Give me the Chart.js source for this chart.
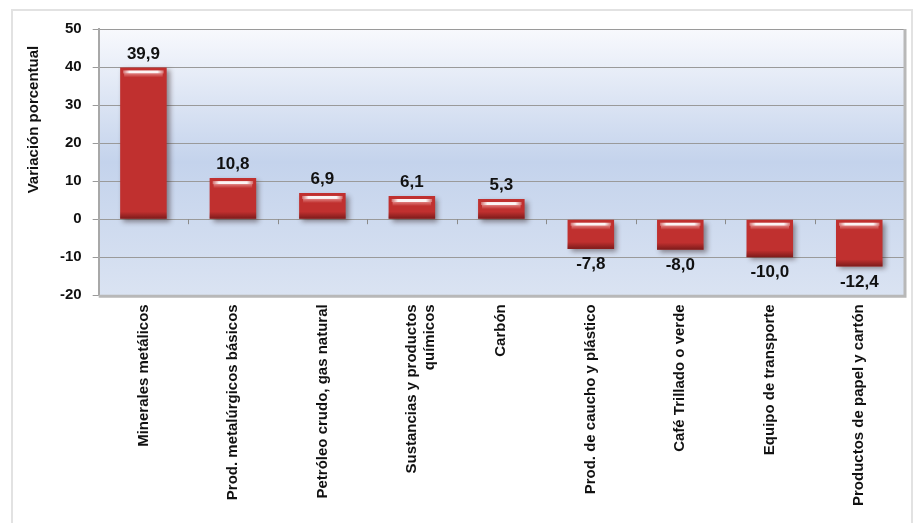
<!DOCTYPE html>
<html>
<head>
<meta charset="utf-8">
<script src="https://cdn.jsdelivr.net/npm/chart.js@4.4.0/dist/chart.umd.min.js"></script>
<style>
  html, body { margin: 0; padding: 0; background: #fff; }
  #wrap { width: 914px; height: 523px; position: relative; }
</style>
</head>
<body>
<div id="wrap"><canvas id="mainChart" width="914" height="523"></canvas></div>
<script>
// --- Data ---
const categories = [
  'Minerales metálicos',
  'Prod. metalúrgicos básicos',
  'Petróleo crudo, gas natural',
  ['Sustancias y productos', 'químicos'],
  'Carbón',
  'Prod. de caucho y plástico',
  'Café Trillado o verde',
  'Equipo de transporte',
  'Productos de papel y cartón'
];
const variacion = [39.9, 10.8, 6.9, 6.1, 5.3, -7.8, -8.0, -10.0, -12.4];
const yTitle = 'Variación porcentual';

const FONT = '"Liberation Sans", Arial, sans-serif';
const fmt = v => v.toFixed(1).replace('.', ',');

// plot background: white at top, blue in the middle, lighter at the bottom
const plotBackground = {
  id: 'plotBackground',
  beforeDraw(chart) {
    const { ctx, chartArea: a } = chart;
    ctx.save();
    // outer frame
    ctx.strokeStyle = '#e2e2e2';
    ctx.lineWidth = 2;
    ctx.strokeRect(12, 10, chart.width - 14, chart.height - 4);
    const g = ctx.createLinearGradient(0, a.top, 0, a.bottom);
    g.addColorStop(0, '#f8f9fd');
    g.addColorStop(0.5, '#c4d3ec');
    g.addColorStop(1, '#dae3f2');
    ctx.fillStyle = g;
    ctx.fillRect(a.left, a.top, a.right - a.left, a.bottom - a.top);
    ctx.restore();
  },
  afterDraw(chart) {
    const { ctx, chartArea: a, scales: { y } } = chart;
    ctx.save();
    ctx.strokeStyle = '#b8b8b8';
    ctx.lineWidth = 3;
    ctx.beginPath();
    ctx.moveTo(a.right + 1, a.top);
    ctx.lineTo(a.right + 1, a.bottom + 1);
    ctx.lineTo(a.left, a.bottom + 1);
    ctx.stroke();
    // y axis title, sitting a bit above the middle like the original
    ctx.translate(y.left - 15, a.top + (a.bottom - a.top) * 0.34);
    ctx.rotate(-Math.PI / 2);
    ctx.fillStyle = '#111';
    ctx.font = 'bold 15px ' + FONT;
    ctx.textAlign = 'center';
    ctx.textBaseline = 'middle';
    ctx.fillText(yTitle, 0, 0);
    ctx.restore();
  }
};

// small category ticks on the zero line
const zeroTicks = {
  id: 'zeroTicks',
  beforeDatasetsDraw(chart) {
    const { ctx, scales: { x, y } } = chart;
    const y0 = y.getPixelForValue(0);
    ctx.save();
    ctx.strokeStyle = '#8a8a8a';
    ctx.lineWidth = 1;
    for (let i = 1; i < categories.length; i++) {
      const px = Math.round((x.getPixelForValue(i - 1) + x.getPixelForValue(i)) / 2) + 0.5;
      ctx.beginPath();
      ctx.moveTo(px, y0);
      ctx.lineTo(px, y0 + 5);
      ctx.stroke();
    }
    ctx.restore();
  }
};

// shadow under bars, glossy highlight, value labels
const barGloss = {
  id: 'barGloss',
  beforeDatasetDraw(chart) {
    const ctx = chart.ctx;
    ctx.save();
    ctx.shadowColor = 'rgba(40,20,20,0.45)';
    ctx.shadowBlur = 5;
    ctx.shadowOffsetX = 3;
    ctx.shadowOffsetY = 3;
  },
  afterDatasetDraw(chart, args) {
    const ctx = chart.ctx;
    ctx.restore();
    const meta = args.meta;
    ctx.save();
    meta.data.forEach((bar, i) => {
      const top = Math.min(bar.y, bar.base);
      const bottom = Math.max(bar.y, bar.base);
      const left = bar.x - bar.width / 2;
      const right = bar.x + bar.width / 2;
      // bottom dark band
      const gb = ctx.createLinearGradient(0, bottom - 7, 0, bottom);
      gb.addColorStop(0, 'rgba(70,10,10,0)');
      gb.addColorStop(1, 'rgba(70,10,10,0.55)');
      ctx.fillStyle = gb;
      ctx.fillRect(left, bottom - 7, bar.width, 7);
      // top highlight
      const gh = ctx.createLinearGradient(left, 0, right, 0);
      gh.addColorStop(0, 'rgba(255,255,255,0)');
      gh.addColorStop(0.2, 'rgba(255,255,255,0.95)');
      gh.addColorStop(0.8, 'rgba(255,255,255,0.95)');
      gh.addColorStop(1, 'rgba(255,255,255,0)');
      ctx.fillStyle = gh;
      ctx.fillRect(left + 3, top + 3, bar.width - 6, 3);
      const gs = ctx.createLinearGradient(0, top + 6, 0, top + 10);
      gs.addColorStop(0, 'rgba(255,200,200,0.5)');
      gs.addColorStop(1, 'rgba(255,200,200,0)');
      ctx.fillStyle = gs;
      ctx.fillRect(left + 4, top + 6, bar.width - 8, 4);
      // value label
      const v = variacion[i];
      ctx.fillStyle = '#111';
      ctx.font = 'bold 17px ' + FONT;
      ctx.textAlign = 'center';
      if (v >= 0) {
        ctx.textBaseline = 'bottom';
        ctx.fillText(fmt(v), bar.x, top - 5);
      } else {
        ctx.textBaseline = 'top';
        ctx.fillText(fmt(v), bar.x, bottom + 7);
      }
    });
    ctx.restore();
  }
};

function barFill(context) {
  const chart = context.chart;
  const el = context.element;
  if (!chart.chartArea || !el || !el.width) return '#c0302f';
  const left = el.x - el.width / 2;
  const g = chart.ctx.createLinearGradient(left, 0, left + el.width, 0);
  g.addColorStop(0, '#8e1c1c');
  g.addColorStop(0.12, '#c33333');
  g.addColorStop(0.45, '#d43f3d');
  g.addColorStop(0.85, '#b42b2a');
  g.addColorStop(1, '#7c1515');
  return g;
}

const chart = new Chart(document.getElementById('mainChart').getContext('2d'), {
  type: 'bar',
  data: {
    labels: categories,
    datasets: [{
      data: variacion,
      backgroundColor: barFill,
      borderColor: '#7a1a1a',
      borderWidth: 0,
      categoryPercentage: 0.52,
      barPercentage: 1
    }]
  },
  options: {
    responsive: false,
    animation: false,
    devicePixelRatio: 1,
    layout: { padding: { left: 49, top: 29, right: 10, bottom: 8 } },
    plugins: { legend: { display: false }, tooltip: { enabled: false } },
    scales: {
      x: {
        grid: { display: false, drawTicks: false },
        border: { display: false },
        ticks: {
          autoSkip: false,
          minRotation: 90,
          maxRotation: 90,
          padding: 9,
          color: '#111',
          font: { family: FONT, size: 15, weight: 'bold' }
        }
      },
      y: {
        min: -20,
        max: 50,
        ticks: {
          stepSize: 10,
          padding: 11,
          color: '#111',
          font: { family: FONT, size: 15, weight: 'bold' }
        },
        grid: { color: '#9a9a9a', lineWidth: 1, tickLength: 6, tickColor: '#9a9a9a' },
        border: { display: true, color: '#a8a8a8', width: 2 }
      }
    }
  },
  plugins: [plotBackground, zeroTicks, barGloss]
});
</script>
</body>
</html>
